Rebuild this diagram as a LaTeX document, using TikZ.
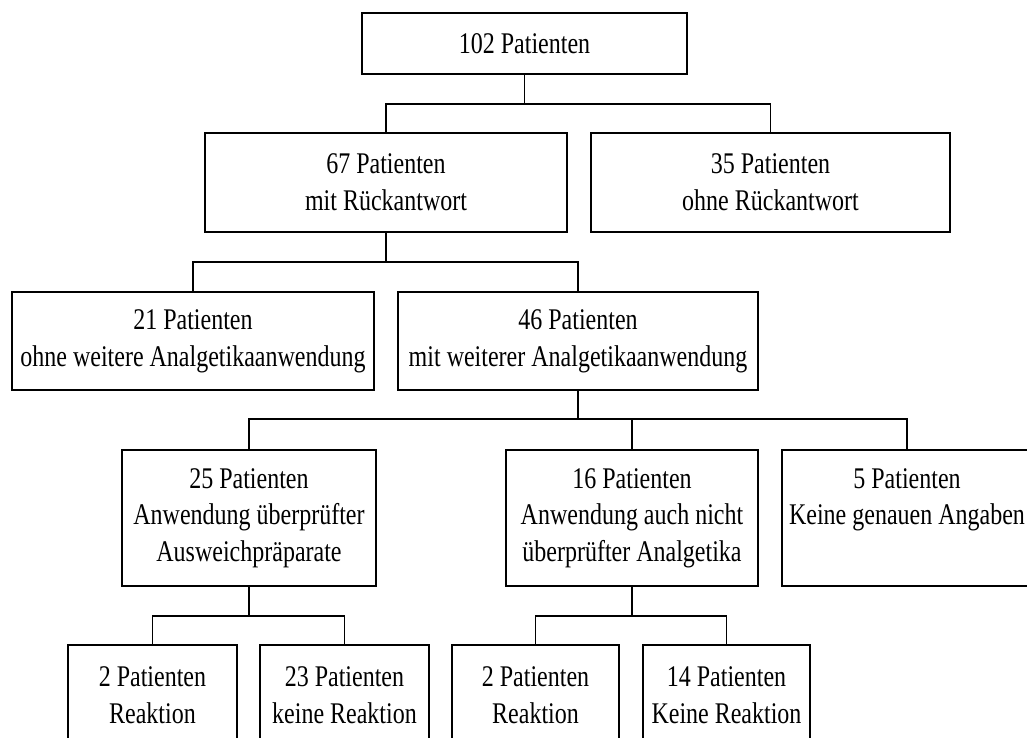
\documentclass[tikz,border=0pt]{standalone}
\usepackage{fontspec}
\setmainfont{Liberation Serif}[FakeStretch=0.8]
\begin{document}
\begin{tikzpicture}[x=0.75pt,y=-0.75pt,
  box/.style={draw,line width=1.4pt,rectangle,align=center,inner sep=0pt,
    font=\fontsize{22.5pt}{27.5pt}\selectfont},
  conn/.style={line width=1.4pt}]
\useasboundingbox (0,0) rectangle (1027,738);
\clip (0,0) rectangle (1027,738);
\node[box,minimum width=325*0.75pt,minimum height=61*0.75pt] (top) at (524.5,43.5) {102 Patienten};
\node[box,minimum width=362*0.75pt,minimum height=99*0.75pt] (b67) at (386,182.5) {67 Patienten\\mit Rückantwort};
\node[box,minimum width=359*0.75pt,minimum height=99*0.75pt] (b35) at (770.5,182.5) {35 Patienten\\ohne Rückantwort};
\node[box,minimum width=362*0.75pt,minimum height=98*0.75pt] (b21) at (193,341) {21 Patienten\\ohne weitere Analgetikaanwendung};
\node[box,minimum width=360*0.75pt,minimum height=98*0.75pt] (b46) at (578,341) {46 Patienten\\mit weiterer Analgetikaanwendung};
\node[box,minimum width=254*0.75pt,minimum height=136*0.75pt] (b25) at (249,518) {25 Patienten\\Anwendung überprüfter\\Ausweichpräparate};
\node[box,minimum width=252*0.75pt,minimum height=136*0.75pt] (b16) at (632,518) {16 Patienten\\Anwendung auch nicht\\überprüfter Analgetika};
\node[box,minimum width=250*0.75pt,minimum height=136*0.75pt] (b5) at (907,518) {5 Patienten\\Keine genauen Angaben\\\vphantom{Ap}};
\node[box,minimum width=169*0.75pt,minimum height=100*0.75pt] (b2a) at (152.5,695) {2 Patienten\\Reaktion};
\node[box,minimum width=169*0.75pt,minimum height=100*0.75pt] (b23) at (344.5,695) {23 Patienten\\keine Reaktion};
\node[box,minimum width=167*0.75pt,minimum height=100*0.75pt] (b2b) at (535.5,695) {2 Patienten\\Reaktion};
\node[box,minimum width=167*0.75pt,minimum height=100*0.75pt] (b14) at (726.5,695) {14 Patienten\\Keine Reaktion};
\coordinate (j1) at (524.5,104);
\coordinate (j2) at (386,262);
\coordinate (j3) at (578,419);
\coordinate (j4) at (249,616);
\coordinate (j5) at (632,616);
\draw[conn] (top.south) -- (j1);
\draw[conn] (b67.north) |- (j1) -| (b35.north);
\draw[conn] (b67.south) -- (j2);
\draw[conn] (b21.north) |- (j2) -| (b46.north);
\draw[conn] (b46.south) -- (j3);
\draw[conn] (b25.north) |- (j3) -| (b5.north);
\draw[conn] (b16.north) -- (b16.north |- j3);
\draw[conn] (b25.south) -- (j4);
\draw[conn] (b2a.north) |- (j4) -| (b23.north);
\draw[conn] (b16.south) -- (j5);
\draw[conn] (b2b.north) |- (j5) -| (b14.north);
\end{tikzpicture}
\end{document}
